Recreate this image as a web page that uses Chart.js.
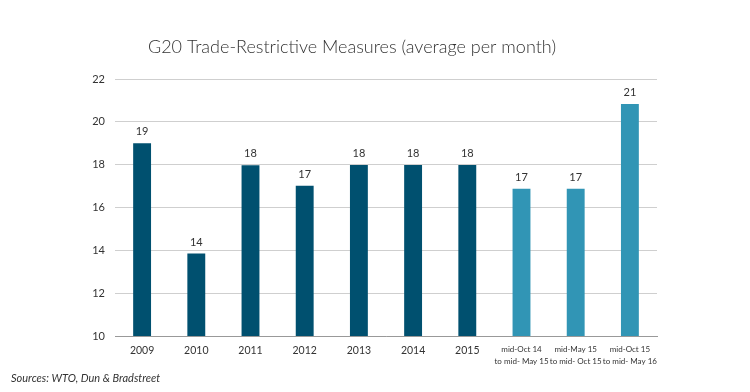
<!DOCTYPE html>
<html>
<head>
<meta charset="utf-8">
<script src="https://cdn.jsdelivr.net/npm/chart.js@4.4.0/dist/chart.umd.min.js"></script>
<style>
  html, body { margin: 0; padding: 0; background: #fff; }
  #wrap { width: 750px; height: 392px; }
</style>
</head>
<body>
<div id="wrap"><canvas id="tradeChart"></canvas></div>
<script>
const categories = ['2009', '2010', '2011', '2012', '2013', '2014', '2015',
    ['mid-Oct 14', 'to mid- May 15'], ['mid-May 15', 'to mid- Oct 15'], ['mid-Oct 15', 'to mid- May 16']];
const measures = [19.0, 13.85, 17.97, 17.02, 17.98, 17.98, 17.98, 16.88, 16.88, 20.83];
const valueLabels = ['19', '14', '18', '17', '18', '18', '18', '17', '17', '21'];
const yTicks = [10, 12, 14, 16, 18, 20, 22];

const darkBlue = '#00506f';
const lightBlue = '#3195b5';
const barColors = measures.map((v, i) => i < 7 ? darkBlue : lightBlue);

const fontFamily = 'Lato, "Noto Sans", sans-serif';
const titleText = 'G20 Trade-Restrictive Measures (average per month)';

// title, labels above bars, source note
const extras = {
    id: 'extras',
    afterDatasetsDraw(chart) {
        const ctx = chart.ctx;
        const meta = chart.getDatasetMeta(0);
        ctx.save();
        ctx.fillStyle = '#333';
        ctx.font = '11px ' + fontFamily;
        ctx.textAlign = 'center';
        ctx.textBaseline = 'bottom';
        meta.data.forEach((bar, i) => {
            ctx.fillText(valueLabels[i], bar.x, bar.y - 6);
        });

        ctx.font = '300 18px ' + fontFamily;
        ctx.textBaseline = 'middle';
        ctx.fillText(titleText, 352, 47);

        ctx.font = 'italic 11px ' + fontFamily;
        ctx.textAlign = 'left';
        ctx.fillText('Sources: WTO, Dun & Bradstreet', 11, 378);
        ctx.restore();
    }
};

new Chart(document.getElementById('tradeChart'), {
    type: 'bar',
    data: {
        labels: categories,
        datasets: [{
            data: measures,
            backgroundColor: barColors,
            barPercentage: 0.33,
            categoryPercentage: 1.0
        }]
    },
    options: {
        responsive: true,
        maintainAspectRatio: false,
        animation: false,
        layout: { padding: { left: 0, right: 93, top: 79, bottom: 0 } },
        plugins: {
            legend: { display: false },
            tooltip: { enabled: false },
            title: { display: false }
        },
        scales: {
            x: {
                grid: { display: false, drawTicks: false },
                border: { color: '#999', width: 1 },
                ticks: {
                    color: '#333',
                    padding: 8,
                    maxRotation: 0,
                    autoSkip: false,
                    font: c => c.index > 6
                        ? { family: fontFamily, size: 8, lineHeight: 1.45 }
                        : { family: fontFamily, size: 10.5 }
                },
                afterFit: s => { s.height = 56; }
            },
            y: {
                min: 10,
                max: 22,
                afterBuildTicks: s => { s.ticks = yTicks.map(v => ({ value: v })); },
                grid: { color: '#cfcfcf', drawTicks: false },
                border: { display: false },
                ticks: {
                    color: '#333',
                    padding: 10,
                    font: { family: fontFamily, size: 11 }
                },
                afterFit: s => { s.width = 115; }
            }
        }
    },
    plugins: [extras]
});
</script>
</body>
</html>
